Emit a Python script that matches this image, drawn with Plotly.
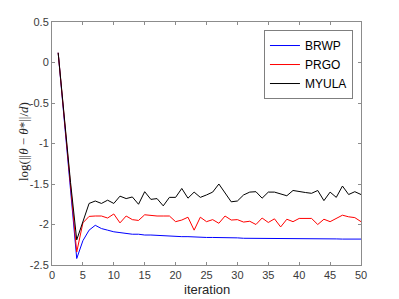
import plotly.graph_objects as go

iterations = list(range(1, 51))

brwp = [0.12, -0.70, -1.58, -2.42, -2.20, -2.07, -2.01, -2.05, -2.07, -2.09,
        -2.10, -2.11, -2.12, -2.12, -2.13, -2.13, -2.135, -2.14, -2.14, -2.145,
        -2.15, -2.15, -2.155, -2.155, -2.16, -2.16, -2.16, -2.165, -2.165, -2.165,
        -2.17, -2.17, -2.17, -2.17, -2.17, -2.172, -2.172, -2.175, -2.175, -2.175,
        -2.175, -2.175, -2.178, -2.178, -2.178, -2.178, -2.18, -2.18, -2.18, -2.18]

prgo = [0.12, -0.70, -1.55, -2.34, -1.98, -1.90, -1.895, -1.895, -1.92, -1.87,
        -1.98, -1.895, -1.94, -1.95, -1.88, -1.89, -1.895, -1.895, -1.895, -1.965,
        -1.945, -1.91, -2.07, -1.91, -1.965, -1.94, -1.985, -1.895, -1.945, -1.94,
        -1.97, -1.96, -2.00, -1.92, -1.975, -1.93, -2.03, -1.935, -1.965, -1.925,
        -1.925, -1.925, -2.00, -1.935, -1.965, -1.925, -1.885, -1.905, -1.915, -1.965]

myula = [0.12, -0.70, -1.48, -2.19, -1.965, -1.74, -1.71, -1.74, -1.70, -1.74,
         -1.65, -1.68, -1.66, -1.75, -1.595, -1.69, -1.68, -1.77, -1.665, -1.665,
         -1.555, -1.675, -1.60, -1.665, -1.635, -1.60, -1.50, -1.615, -1.72, -1.71,
         -1.635, -1.60, -1.595, -1.675, -1.60, -1.60, -1.62, -1.645, -1.58, -1.595,
         -1.605, -1.615, -1.58, -1.705, -1.60, -1.665, -1.525, -1.63, -1.595, -1.63]

x_ticks = list(range(0, 51, 5))
y_ticks = [0.5, 0, -0.5, -1, -1.5, -2, -2.5]
y_labels = ['0.5', '0', '-0.5', '-1', '-1.5', '-2', '-2.5']

fig = go.Figure()
fig.add_trace(go.Scatter(x=iterations, y=brwp, mode='lines', name='BRWP',
                         line=dict(color='#0000ff', width=1)))
fig.add_trace(go.Scatter(x=iterations, y=prgo, mode='lines', name='PRGO',
                         line=dict(color='#ff0000', width=1)))
fig.add_trace(go.Scatter(x=iterations, y=myula, mode='lines', name='MYULA',
                         line=dict(color='#000000', width=1)))

axis_common = dict(showline=True, linecolor='#8c8c8c', linewidth=1, mirror='ticks',
                   ticks='inside', ticklen=3, tickcolor='#8c8c8c', showgrid=False,
                   zeroline=False, automargin=False,
                   tickfont=dict(family='Liberation Sans', size=11, color='#3a3a3a'))

# the page body has an 8px margin, so the margins below are shifted to compensate
fig.update_layout(
    width=399, height=299,
    margin=dict(l=44, r=46, t=14, b=42),
    paper_bgcolor='white', plot_bgcolor='white',
    xaxis=dict(range=[0, 50], tickvals=x_ticks, **axis_common),
    yaxis=dict(range=[-2.5, 0.5], tickvals=y_ticks, ticktext=y_labels, **axis_common),
    legend=dict(x=0.974, y=0.967, xanchor='right', yanchor='top',
                bordercolor='#7f7f7f', borderwidth=1, bgcolor='white',
                font=dict(family='Liberation Sans', size=12, color='#000000'),
                traceorder='normal', itemwidth=30),
    showlegend=True,
)

fig.add_annotation(text='iteration', xref='paper', yref='paper', x=0.5, y=-0.099,
                   xanchor='center', yanchor='middle', showarrow=False,
                   font=dict(family='Liberation Sans', size=13, color='#262626'))
fig.add_annotation(text='log(||<i>θ</i> − <i>θ</i>*||/<i>d</i>)', textangle=-90,
                   xref='paper', yref='paper', x=-0.094, y=0.51,
                   xanchor='center', yanchor='middle', showarrow=False,
                   font=dict(family='Liberation Serif', size=13, color='#262626'))

# draw once more after the first render so the legend line samples pick up their colours
redraw = ("var gd = document.getElementById('{plot_id}');"
          "Plotly.newPlot(gd, gd.data, gd.layout, {displayModeBar: false});")

fig.write_html("out.html", post_script=redraw)
